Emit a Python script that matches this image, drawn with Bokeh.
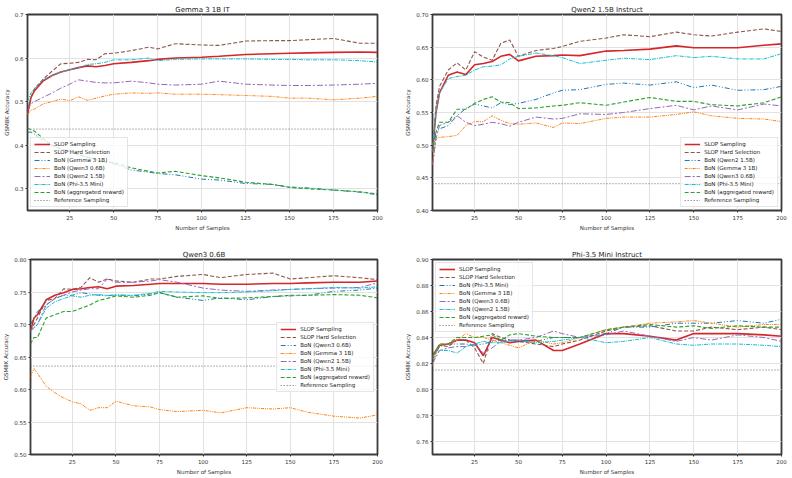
from bokeh.plotting import figure
from bokeh.models import Range1d, FixedTicker, PrintfTickFormatter
from bokeh.layouts import row, column
from bokeh.embed import file_html
from bokeh.resources import INLINE

# ---------------- data ----------------
samples = [1, 3, 5, 10, 15, 20, 25, 30, 35, 40, 45, 50, 60, 70, 75, 85, 100, 110, 125, 140, 150, 160, 175, 190, 200]
x_ticks = [25, 50, 75, 100, 125, 150, 175, 200]

# Panel 1: Gemma 3 1B IT
gemma_titles = ["SLOP Sampling", "SLOP Hard Selection", "BoN (Gemma 3 1B)", "BoN (Qwen3 0.6B)",
                "BoN (Qwen2 1.5B)", "BoN (Phi-3.5 Mini)", "BoN (aggregated reward)", "Reference Sampling"]
gemma_slop = [0.47, 0.51, 0.525, 0.548, 0.56, 0.568, 0.573, 0.578, 0.582, 0.58, 0.583, 0.587, 0.59, 0.594, 0.597, 0.60, 0.602, 0.604, 0.608, 0.61, 0.611, 0.612, 0.613, 0.614, 0.613]
gemma_hard = [0.47, 0.51, 0.53, 0.552, 0.57, 0.587, 0.588, 0.59, 0.597, 0.596, 0.61, 0.611, 0.617, 0.625, 0.621, 0.633, 0.630, 0.629, 0.639, 0.64, 0.64, 0.642, 0.645, 0.634, 0.634]
gemma_bon1 = [0.43, 0.43, 0.425, 0.41, 0.40, 0.39, 0.385, 0.378, 0.372, 0.367, 0.362, 0.357, 0.343, 0.338, 0.335, 0.332, 0.322, 0.32, 0.312, 0.31, 0.304, 0.302, 0.297, 0.292, 0.286]
gemma_bon2 = [0.47, 0.48, 0.483, 0.495, 0.50, 0.506, 0.502, 0.511, 0.503, 0.508, 0.513, 0.517, 0.52, 0.519, 0.52, 0.517, 0.517, 0.516, 0.514, 0.512, 0.508, 0.508, 0.504, 0.508, 0.512]
gemma_bon3 = [0.48, 0.495, 0.50, 0.51, 0.52, 0.531, 0.54, 0.55, 0.547, 0.544, 0.543, 0.543, 0.547, 0.543, 0.540, 0.538, 0.540, 0.547, 0.540, 0.538, 0.537, 0.537, 0.538, 0.54, 0.542]
gemma_bon4 = [0.50, 0.52, 0.53, 0.55, 0.56, 0.568, 0.573, 0.577, 0.585, 0.587, 0.59, 0.596, 0.596, 0.60, 0.594, 0.597, 0.598, 0.598, 0.598, 0.597, 0.597, 0.596, 0.596, 0.594, 0.591]
gemma_agg = [0.44, 0.435, 0.432, 0.415, 0.40, 0.392, 0.385, 0.378, 0.373, 0.367, 0.362, 0.36, 0.348, 0.34, 0.336, 0.34, 0.33, 0.325, 0.315, 0.31, 0.303, 0.3, 0.297, 0.293, 0.288]
gemma_ref = 0.437

# Panel 2: Qwen2 1.5B Instruct
qwen2_titles = ["SLOP Sampling", "SLOP Hard Selection", "BoN (Qwen2 1.5B)", "BoN (Gemma 3 1B)",
                "BoN (Qwen3 0.6B)", "BoN (Phi-3.5 Mini)", "BoN (aggregated reward)", "Reference Sampling"]
qwen2_slop = [0.49, 0.55, 0.58, 0.607, 0.612, 0.608, 0.623, 0.625, 0.628, 0.636, 0.639, 0.629, 0.636, 0.637, 0.638, 0.637, 0.644, 0.645, 0.647, 0.652, 0.649, 0.649, 0.649, 0.653, 0.655]
qwen2_hard = [0.49, 0.56, 0.59, 0.615, 0.626, 0.615, 0.643, 0.635, 0.63, 0.656, 0.661, 0.636, 0.645, 0.648, 0.651, 0.659, 0.664, 0.669, 0.666, 0.673, 0.669, 0.667, 0.673, 0.678, 0.674]
qwen2_bon1 = [0.49, 0.52, 0.525, 0.53, 0.545, 0.556, 0.563, 0.56, 0.557, 0.565, 0.562, 0.564, 0.57, 0.58, 0.584, 0.585, 0.593, 0.595, 0.592, 0.597, 0.588, 0.592, 0.584, 0.585, 0.59]
qwen2_bon2 = [0.47, 0.51, 0.512, 0.513, 0.515, 0.53, 0.536, 0.536, 0.545, 0.538, 0.533, 0.532, 0.534, 0.527, 0.534, 0.533, 0.541, 0.543, 0.543, 0.547, 0.551, 0.545, 0.541, 0.54, 0.536]
qwen2_bon3 = [0.47, 0.51, 0.53, 0.535, 0.545, 0.535, 0.53, 0.532, 0.535, 0.533, 0.529, 0.535, 0.543, 0.54, 0.541, 0.548, 0.547, 0.55, 0.556, 0.561, 0.554, 0.56, 0.554, 0.563, 0.56]
qwen2_bon4 = [0.50, 0.55, 0.58, 0.602, 0.605, 0.607, 0.615, 0.62, 0.621, 0.623, 0.632, 0.636, 0.641, 0.637, 0.634, 0.625, 0.630, 0.633, 0.631, 0.637, 0.634, 0.636, 0.632, 0.632, 0.64]
qwen2_agg = [0.49, 0.52, 0.535, 0.535, 0.555, 0.555, 0.564, 0.57, 0.574, 0.566, 0.565, 0.556, 0.557, 0.56, 0.561, 0.565, 0.561, 0.566, 0.573, 0.567, 0.567, 0.562, 0.56, 0.565, 0.574]
qwen2_ref = 0.441

# Panel 3: Qwen3 0.6B
qwen3_titles = ["SLOP Sampling", "SLOP Hard Selection", "BoN (Qwen3 0.6B)", "BoN (Gemma 3 1B)",
                "BoN (Qwen2 1.5B)", "BoN (Phi-3.5 Mini)", "BoN (aggregated reward)", "Reference Sampling"]
qwen3_slop = [0.69, 0.71, 0.715, 0.738, 0.745, 0.749, 0.754, 0.755, 0.757, 0.758, 0.755, 0.759, 0.76, 0.762, 0.763, 0.763, 0.763, 0.762, 0.762, 0.763, 0.763, 0.764, 0.765, 0.765, 0.767]
qwen3_hard = [0.69, 0.70, 0.71, 0.737, 0.74, 0.755, 0.754, 0.757, 0.772, 0.765, 0.77, 0.767, 0.765, 0.77, 0.77, 0.774, 0.777, 0.772, 0.777, 0.779, 0.77, 0.772, 0.775, 0.772, 0.769]
qwen3_bon1 = [0.70, 0.71, 0.72, 0.73, 0.74, 0.745, 0.745, 0.749, 0.747, 0.745, 0.744, 0.746, 0.744, 0.747, 0.749, 0.742, 0.737, 0.741, 0.738, 0.743, 0.744, 0.745, 0.751, 0.753, 0.756]
qwen3_bon2 = [0.62, 0.632, 0.625, 0.605, 0.595, 0.587, 0.581, 0.578, 0.568, 0.572, 0.572, 0.582, 0.575, 0.573, 0.569, 0.566, 0.568, 0.564, 0.572, 0.57, 0.572, 0.565, 0.559, 0.556, 0.561]
qwen3_bon3 = [0.69, 0.695, 0.70, 0.73, 0.74, 0.745, 0.75, 0.753, 0.755, 0.755, 0.77, 0.765, 0.765, 0.767, 0.769, 0.765, 0.756, 0.753, 0.751, 0.753, 0.754, 0.755, 0.756, 0.757, 0.764]
qwen3_bon4 = [0.69, 0.695, 0.70, 0.725, 0.735, 0.74, 0.744, 0.742, 0.745, 0.746, 0.745, 0.745, 0.745, 0.748, 0.751, 0.75, 0.749, 0.749, 0.75, 0.752, 0.754, 0.755, 0.757, 0.756, 0.758]
qwen3_agg = [0.67, 0.68, 0.68, 0.71, 0.715, 0.72, 0.72, 0.725, 0.73, 0.737, 0.74, 0.744, 0.742, 0.745, 0.749, 0.742, 0.744, 0.74, 0.741, 0.743, 0.745, 0.745, 0.746, 0.745, 0.741]
qwen3_ref = 0.636

# Panel 4: Phi-3.5 Mini Instruct
phi_titles = ["SLOP Sampling", "SLOP Hard Selection", "BoN (Phi-3.5 Mini)", "BoN (Gemma 3 1B)",
              "BoN (Qwen3 0.6B)", "BoN (Qwen2 1.5B)", "BoN (aggregated reward)", "Reference Sampling"]
phi_slop = [0.826, 0.83, 0.834, 0.835, 0.838, 0.838, 0.836, 0.826, 0.84, 0.838, 0.836, 0.837, 0.838, 0.83, 0.83, 0.835, 0.843, 0.843, 0.841, 0.838, 0.843, 0.843, 0.843, 0.842, 0.841]
phi_hard = [0.825, 0.83, 0.834, 0.833, 0.838, 0.838, 0.832, 0.82, 0.843, 0.84, 0.838, 0.837, 0.835, 0.833, 0.835, 0.838, 0.845, 0.848, 0.849, 0.845, 0.845, 0.848, 0.846, 0.848, 0.846]
phi_bon1 = [0.82, 0.828, 0.833, 0.835, 0.835, 0.835, 0.834, 0.835, 0.837, 0.838, 0.838, 0.838, 0.837, 0.84, 0.84, 0.84, 0.843, 0.848, 0.848, 0.851, 0.851, 0.851, 0.853, 0.851, 0.854]
phi_bon2 = [0.818, 0.828, 0.835, 0.835, 0.838, 0.843, 0.84, 0.84, 0.838, 0.836, 0.834, 0.832, 0.838, 0.835, 0.836, 0.84, 0.846, 0.848, 0.851, 0.852, 0.853, 0.851, 0.848, 0.85, 0.85]
phi_bon3 = [0.82, 0.825, 0.83, 0.832, 0.833, 0.833, 0.835, 0.828, 0.832, 0.837, 0.838, 0.838, 0.84, 0.845, 0.843, 0.84, 0.842, 0.845, 0.841, 0.837, 0.84, 0.838, 0.842, 0.84, 0.837]
phi_bon4 = [0.825, 0.828, 0.83, 0.83, 0.828, 0.833, 0.835, 0.837, 0.836, 0.836, 0.837, 0.838, 0.836, 0.837, 0.838, 0.84, 0.836, 0.837, 0.84, 0.835, 0.834, 0.835, 0.835, 0.834, 0.833]
phi_agg = [0.823, 0.83, 0.835, 0.835, 0.84, 0.84, 0.84, 0.841, 0.842, 0.838, 0.842, 0.843, 0.841, 0.84, 0.84, 0.84, 0.846, 0.848, 0.85, 0.848, 0.849, 0.847, 0.849, 0.848, 0.848]
phi_ref = 0.815

# ---------------- styling ----------------
FONT = "DejaVu Sans"
COLORS = ["#d62728", "#8c564b", "#1f77b4", "#ff7f0e", "#9467bd", "#17becf", "#2ca02c", "#666666"]
DASHES = ["solid", "4 2", "5 2 1 2 1 2", "3 1 1 1 1 1", "6 2 2 2", "4 1 1 1", "4 2", "1 2"]
WIDTHS = [1.6, 1.1, 1.0, 1.0, 1.0, 1.0, 1.1, 1.0]


def make_panel(title, labels, series, ref, y0, y1, yticks, yfmt, legend_loc,
               width, height, bl, br, bt, bb):
    p = figure(width=width, height=height, output_backend="svg", toolbar_location=None,
               x_range=Range1d(1, 200), y_range=Range1d(y0, y1),
               min_border_left=bl, min_border_right=br, min_border_top=bt, min_border_bottom=bb)
    p.title.text = title
    p.title.align = "center"
    p.title.text_font = FONT
    p.title.text_font_size = "7px"
    p.title.text_font_style = "normal"
    p.title.text_color = "#222222"
    p.title.standoff = 2
    p.title.offset = 0

    for i, (lab, ys) in enumerate(zip(labels[:7], series)):
        p.line(samples, ys, color=COLORS[i], line_dash=DASHES[i], line_width=WIDTHS[i],
               legend_label=lab)
    p.line([1, 200], [ref, ref], color=COLORS[7], line_dash=DASHES[7], line_width=1.0,
           legend_label=labels[7])

    p.outline_line_color = "#3a3a3a"
    p.outline_line_width = 1.8
    p.background_fill_color = "white"
    p.border_fill_color = "white"

    p.xaxis.ticker = FixedTicker(ticks=x_ticks)
    p.yaxis.ticker = FixedTicker(ticks=yticks)
    p.yaxis.formatter = PrintfTickFormatter(format=yfmt)
    p.xaxis.axis_label = "Number of Samples"
    p.yaxis.axis_label = "GSM8K Accuracy"
    for ax in (p.xaxis, p.yaxis):
        ax.axis_line_color = None
        ax.major_tick_line_color = "#333333"
        ax.major_tick_in = 0
        ax.major_tick_out = 2
        ax.minor_tick_line_color = None
        ax.major_label_text_font = FONT
        ax.major_label_text_font_size = "5.5px"
        ax.major_label_text_color = "#333333"
        ax.major_label_standoff = 2
        ax.axis_label_text_font = FONT
        ax.axis_label_text_font_size = "5.5px"
        ax.axis_label_text_font_style = "normal"
        ax.axis_label_text_color = "#333333"
        ax.axis_label_standoff = 2
    p.grid.grid_line_color = "#e2e2e2"
    p.grid.grid_line_width = 1

    lg = p.legend[0]
    lg.location = legend_loc
    lg.label_text_font = FONT
    lg.label_text_font_size = "5.5px"
    lg.label_text_color = "#222222"
    lg.label_height = 6
    lg.glyph_height = 6
    lg.glyph_width = 16
    lg.label_standoff = 4
    lg.spacing = 2
    lg.padding = 3
    lg.margin = 3
    lg.border_line_color = "#cccccc"
    lg.border_line_width = 0.8
    lg.background_fill_alpha = 0.8
    return p


p1 = make_panel("Gemma 3 1B IT", gemma_titles,
                [gemma_slop, gemma_hard, gemma_bon1, gemma_bon2, gemma_bon3, gemma_bon4, gemma_agg],
                gemma_ref, 0.25, 0.70, [0.3, 0.4, 0.5, 0.6, 0.7], "%.1f", "bottom_left",
                396, 239, 25, 19, 14, 29)
p2 = make_panel("Qwen2 1.5B Instruct", qwen2_titles,
                [qwen2_slop, qwen2_hard, qwen2_bon1, qwen2_bon2, qwen2_bon3, qwen2_bon4, qwen2_agg],
                qwen2_ref, 0.40, 0.70, [0.40, 0.45, 0.50, 0.55, 0.60, 0.65, 0.70], "%.2f", "bottom_right",
                396, 239, 36, 11, 14, 29)
p3 = make_panel("Qwen3 0.6B", qwen3_titles,
                [qwen3_slop, qwen3_hard, qwen3_bon1, qwen3_bon2, qwen3_bon3, qwen3_bon4, qwen3_agg],
                qwen3_ref, 0.50, 0.80, [0.50, 0.55, 0.60, 0.65, 0.70, 0.75, 0.80], "%.2f", "center_right",
                396, 239, 29, 19, 20, 24)
p4 = make_panel("Phi-3.5 Mini Instruct", phi_titles,
                [phi_slop, phi_hard, phi_bon1, phi_bon2, phi_bon3, phi_bon4, phi_agg],
                phi_ref, 0.75, 0.90, [0.76, 0.78, 0.80, 0.82, 0.84, 0.86, 0.88, 0.90], "%.2f", "top_left",
                396, 239, 36, 11, 20, 24)

layout = column(row(p1, p2), row(p3, p4))

with open("out.html", "w") as f:
    f.write(file_html(layout, INLINE))
